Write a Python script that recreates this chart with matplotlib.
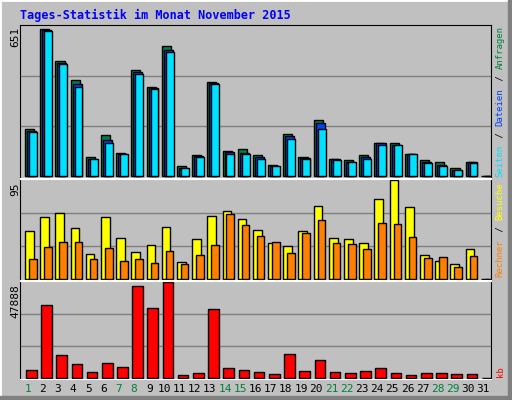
import matplotlib.pyplot as plt
from matplotlib.patches import Rectangle

days = list(range(1, 32))
hits = [206, 641, 499, 416, 84, 177, 101, 460, 389, 567, 41, 90, 410, 106, 115,
        90, 46, 184, 84, 245, 75, 67, 90, 145, 141, 97, 67, 58, 32, 62, 0]
files = [196, 634, 490, 402, 75, 155, 94, 451, 381, 550, 36, 87, 403, 103, 101,
         80, 42, 173, 77, 232, 73, 62, 84, 141, 135, 96, 58, 49, 26, 58, 0]
pages = [193, 632, 489, 389, 75, 141, 93, 445, 380, 541, 36, 84, 402, 97, 97,
         71, 41, 162, 75, 206, 67, 58, 73, 133, 132, 93, 54, 41, 23, 54, 0]
visits = [46, 59, 63, 49, 24, 59, 39, 26, 32, 50, 16, 38, 60, 65, 57,
          47, 34, 31, 46, 70, 39, 38, 34, 77, 95, 69, 23, 17, 14, 28, 0]
sites = [19, 30, 35, 35, 19, 29, 17, 19, 15, 27, 14, 23, 32, 62, 52,
         41, 35, 25, 44, 56, 34, 33, 28, 54, 53, 40, 20, 21, 11, 22, 0]
kbytes = [3846, 36358, 11187, 6992, 2797, 7516, 5419, 45798, 34785, 47888, 1224, 2272,
          34261, 4894, 3846, 2797, 1748, 11712, 3321, 8565, 2797, 2272, 3321, 4894,
          2272, 1224, 2272, 2272, 1748, 1748, 0]
weekend_days = [1, 7, 8, 14, 15, 21, 22, 28, 29]
max_top, max_mid, max_bot = 651, 95, 47888

BG = "#C0C0C0"
C_HITS, C_FILES, C_PAGES = "#008040", "#0040FF", "#00E0FF"
C_VISITS, C_SITES, C_KB = "#FFFF00", "#FF8000", "#FF0000"
W, H = 512, 400
MONO = "DejaVu Sans Mono"

fig = plt.figure(figsize=(W / 100, H / 100), dpi=100, facecolor=BG)

# 3D-ish outer frame
fig.patches.append(Rectangle((0, 0), 1, 1, transform=fig.transFigure, fill=False,
                             edgecolor="white", lw=2))
fig.patches.append(Rectangle((508 / W, 0), 4 / W, 1, transform=fig.transFigure,
                             color="#808080"))
fig.patches.append(Rectangle((0, 0), 1, 4 / H, transform=fig.transFigure,
                             color="#808080"))


def panel(top_px, bot_px, vmax):
    ax = fig.add_axes([20 / W, 1 - bot_px / H, 471 / W, (bot_px - top_px) / H])
    ax.set_facecolor(BG)
    ax.set_xlim(0.5, 31.5)
    ax.set_ylim(-vmax * 0.015, vmax * 1.01)
    for frac in (1 / 3, 2 / 3):
        ax.axhline(vmax * frac, color="#808080", lw=1, zorder=0)
    ax.set_xticks([])
    ax.set_yticks([])
    return ax


ax1 = panel(25, 178, max_top)
for s in ax1.spines.values():
    s.set_color("black")
ax1.spines["bottom"].set_color("white")
for vals, off, w, c in ((hits, -0.17, 0.6, C_HITS), (files, -0.04, 0.6, C_FILES),
                        (pages, 0.09, 0.52, C_PAGES)):
    ax1.bar([d + off for d in days], vals, width=w, align="edge", color=c,
            edgecolor="black", lw=1, zorder=2)

ax2 = panel(179, 280, max_mid)
for s in ax2.spines.values():
    s.set_color("white")
ax2.spines["left"].set_color("black")
ax2.spines["right"].set_color("black")
ax2.bar([d - 0.17 for d in days], visits, width=0.57, align="edge", color=C_VISITS,
        edgecolor="black", lw=1, zorder=2)
ax2.bar([d + 0.09 for d in days], sites, width=0.5, align="edge", color=C_SITES,
        edgecolor="black", lw=1, zorder=2)

ax3 = panel(281, 379, max_bot)
for s in ax3.spines.values():
    s.set_color("white")
ax3.spines["left"].set_color("black")
ax3.spines["right"].set_color("black")
ax3.bar([d - 0.11 for d in days], kbytes, width=0.7, align="edge", color=C_KB,
        edgecolor="black", lw=1, zorder=2)

# title
fig.text(20 / W, 1 - 15 / H, "Tages-Statistik im Monat November 2015", color="#0000FF",
         fontsize=8.5, fontweight="bold", family=MONO, va="center")

# max labels
for y_px, label in ((27, str(max_top)), (182, str(max_mid)), (284, str(max_bot))):
    fig.text(15 / W, 1 - y_px / H, label, rotation=90, fontsize=8, family=MONO,
             ha="center", va="top")

# day labels
for d in days:
    fig.text((20 + (d - 0.5) * 471 / 31) / W, 1 - 389 / H, str(d), fontsize=8,
             family=MONO, ha="center", va="center",
             color=C_HITS if d in weekend_days else "black")


# right-side legends built from coloured pieces, bottom to top
def side_legend(bottom_px, pieces, char_px=5.7):
    y = bottom_px
    for txt, col in pieces:
        fig.text(500 / W, 1 - y / H, txt, rotation=90, fontsize=6.5, family=MONO,
                 color=col, ha="center", va="bottom")
        y -= len(txt) * char_px


side_legend(177, [("Seiten", C_PAGES), (" / ", "black"), ("Dateien", C_FILES),
                  (" / ", "black"), ("Anfragen", C_HITS)])
side_legend(277, [("Rechner", C_SITES), (" / ", "black"), ("Besuche", C_VISITS)])
side_legend(377, [("kb", C_KB)])

fig.savefig("out.png", dpi=100, facecolor=BG)
